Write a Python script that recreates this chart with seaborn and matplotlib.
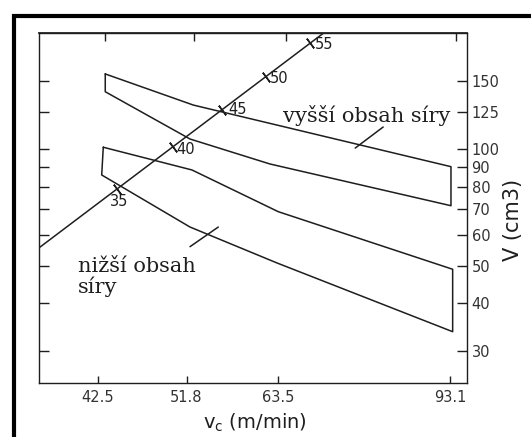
import numpy as np
import matplotlib
matplotlib.use('Agg')
import matplotlib.pyplot as plt
import seaborn as sns
from matplotlib.patches import Rectangle
from matplotlib.ticker import NullLocator

# ---------------- data ----------------
x_ticks = [42.5, 51.8, 63.5, 93.1]
x_top_ticks = [43.2, 52.7, 64.6, 94.3]
y_ticks = [30, 40, 50, 60, 70, 80, 90, 100, 125, 150]

# band "vyšší obsah síry" (closed outline)
high_vc = [43.23, 52.59, 93.28, 93.28, 62.36, 52.20, 43.23, 43.23]
high_V = [156.9, 130.3, 90.2, 71.45, 91.66, 106.4, 141.1, 156.9]

# band "nižší obsah síry" (closed outline)
low_vc = [43.04, 52.43, 63.53, 93.63, 93.63, 63.35, 52.20, 42.89, 43.04]
low_V = [101.3, 88.44, 68.94, 48.89, 33.68, 50.76, 62.91, 85.84, 101.3]

# diagonal scale line with its marks
diag_vc = [37.37, 70.21]
diag_V = [55.75, 200.0]
diag_labels = ['35', '40', '45', '50', '55']
diag_tick_vc = [44.39, 50.22, 56.06, 61.78, 68.23]
diag_tick_V = [79.0, 101.5, 126.7, 154.4, 188.9]

# leader lines
lead_high_vc = [75.38, 80.22]
lead_high_V = [100.8, 114.3]
lead_low_vc = [52.20, 55.59]
lead_low_V = [55.95, 62.91]

# ---------------- style ----------------
sns.set_theme(style='white', context='notebook')
plt.rcParams['font.family'] = ['DejaVu Sans']
plt.rcParams['mathtext.fontset'] = 'dejavusans'
ink = '#1e1e1e'
lw = 1.1

fig = plt.figure(figsize=(5.31, 4.37), dpi=100)
ax = fig.add_axes([0.0740, 0.1229, 0.8049, 0.8009])
ax.set_xscale('log')
ax.set_yscale('log')
ax.set_xlim(37.33, 96.6)
ax.set_ylim(24.75, 200)

for xs, ys in [(high_vc, high_V), (low_vc, low_V), (diag_vc, diag_V),
               (lead_high_vc, lead_high_V), (lead_low_vc, lead_low_V)]:
    sns.lineplot(x=xs, y=ys, sort=False, estimator=None, color=ink,
                 linewidth=lw, ax=ax, legend=False)

# marks across the diagonal, perpendicular to it
p0 = ax.transData.transform((diag_vc[0], diag_V[0]))
p1 = ax.transData.transform((diag_vc[1], diag_V[1]))
ang = np.degrees(np.arctan2(p1[1] - p0[1], p1[0] - p0[0]))
ax.plot(diag_tick_vc, diag_tick_V, ls='none', marker=(2, 2, ang), ms=8.6,
        mew=1.1, color=ink)
label_offsets = [(-7.2, 12.4), (4, 2.6), (6.3, -0.7), (4.2, 2.1), (4.6, 1.4)]
for lab, xv, yv, (dx, dy) in zip(diag_labels, diag_tick_vc, diag_tick_V, label_offsets):
    ax.annotate(lab, (xv, yv), xytext=(dx * 0.72, -dy * 0.72),
                textcoords='offset points', ha='left', va='center',
                fontsize=10.5, color=ink)

# texts
ax.text(0.961, 0.7474, 'vyšší obsah síry', transform=ax.transAxes,
        ha='right', va='baseline', family='DejaVu Serif', fontsize=15, color=ink)
ax.text(0.0913, 0.3189, 'nižší obsah', transform=ax.transAxes,
        ha='left', va='baseline', family='DejaVu Serif', fontsize=15, color=ink)
ax.text(0.0913, 0.2571, 'síry', transform=ax.transAxes,
        ha='left', va='baseline', family='DejaVu Serif', fontsize=15, color=ink)

# axes / ticks
ax.set_xticks(x_ticks)
ax.set_xticklabels([str(v) for v in x_ticks])
ax.set_yticks(y_ticks)
ax.set_yticklabels([str(v) for v in y_ticks])
ax.xaxis.set_minor_locator(NullLocator())
ax.yaxis.set_minor_locator(NullLocator())
ax.tick_params(axis='x', which='major', direction='in', length=5.4, width=1,
               bottom=True, top=False, labelsize=10.5, pad=5,
               color=ink, labelcolor='#333333')
ax.tick_params(axis='y', which='major', direction='in', length=7.5, width=1,
               left=True, right=True, labelleft=False, labelright=True,
               labelsize=10.5, pad=3.5, color=ink, labelcolor='#333333')

sec = ax.secondary_xaxis('top')
sec.set_xticks(x_top_ticks)
sec.xaxis.set_minor_locator(NullLocator())
sec.tick_params(direction='in', length=5.4, width=1, labeltop=False, color=ink)
sec.spines['top'].set_color(ink)

for s in ax.spines.values():
    s.set_color(ink)
    s.set_linewidth(1.0)
    s.set_visible(True)

ax.yaxis.set_label_position('right')
ax.set_ylabel('V (cm3)', fontsize=15, color=ink)
ax.yaxis.set_label_coords(1.085, 0.4666)
ax.set_xlabel(r'$\mathregular{v_c}$ (m/min)', fontsize=14, color=ink)
ax.xaxis.set_label_coords(0.5047, -0.082)

# outer thick frame
fig.add_artist(Rectangle((14 / 531, -0.2), 2.0, 0.9645 + 0.2,
                         transform=fig.transFigure, fill=False, lw=3,
                         ec='black', clip_on=False))

fig.savefig('out.png', dpi=100, facecolor='white')
